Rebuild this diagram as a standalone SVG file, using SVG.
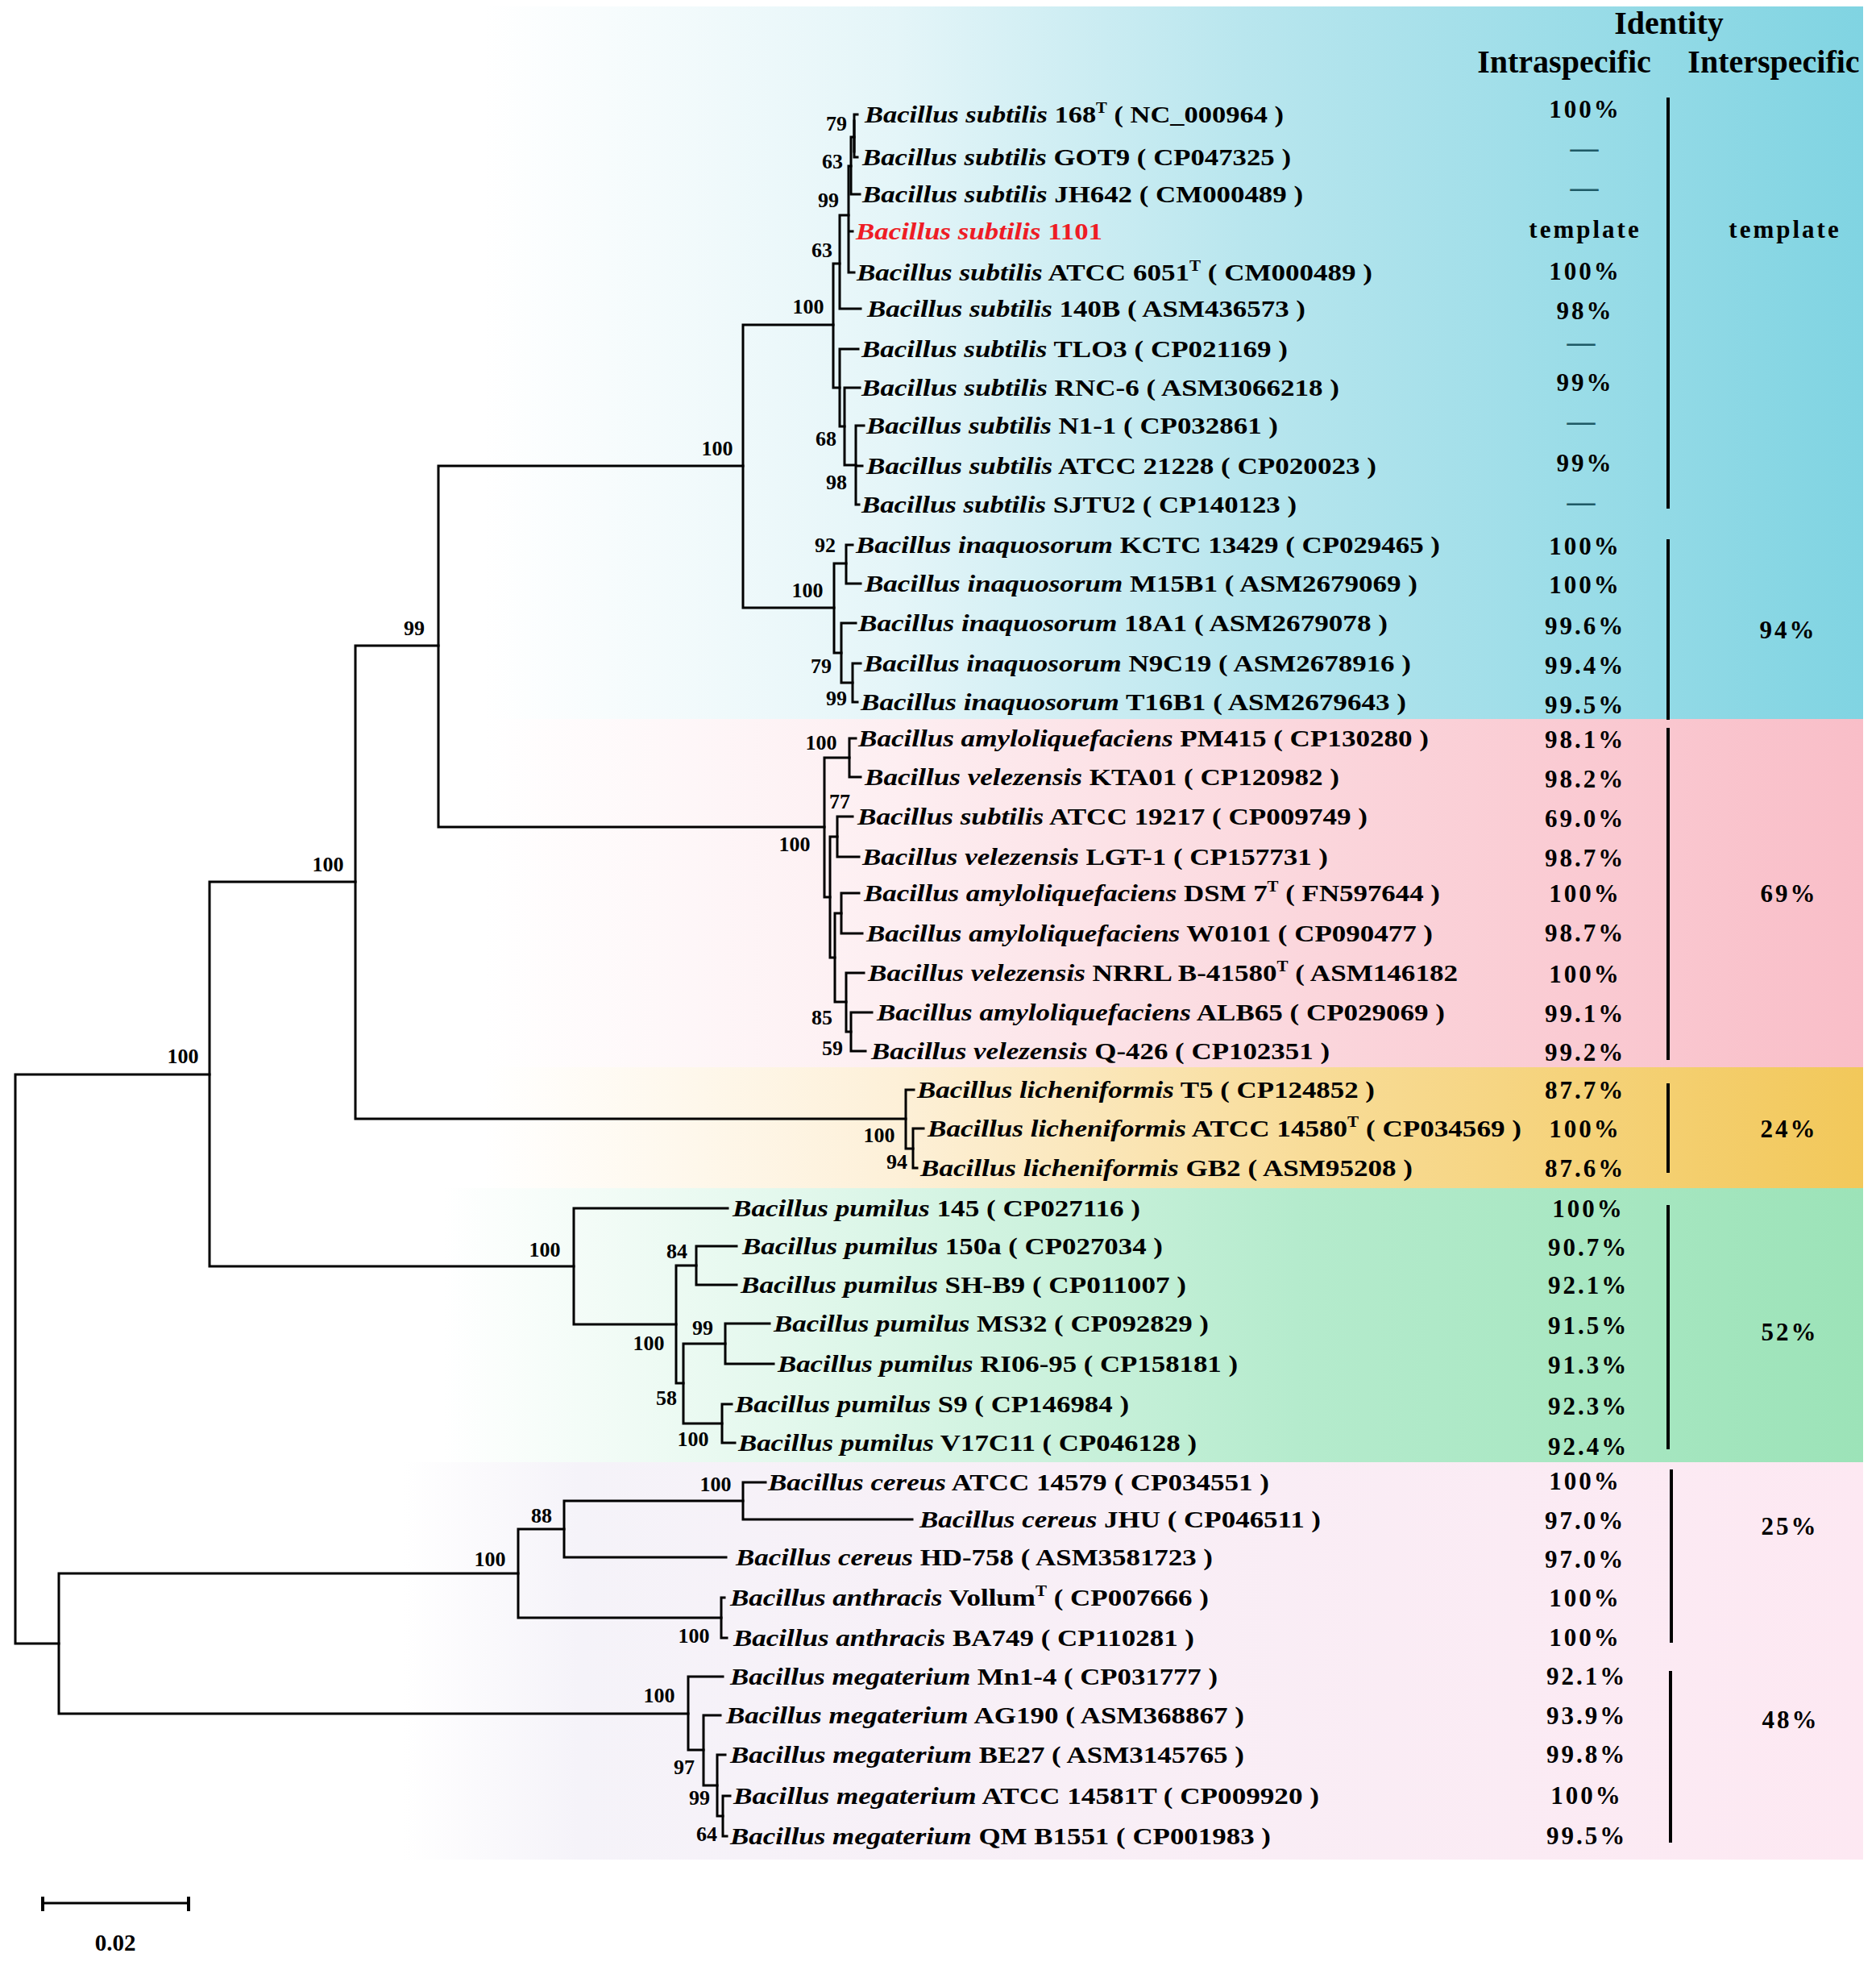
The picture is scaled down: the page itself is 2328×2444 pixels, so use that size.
<svg xmlns="http://www.w3.org/2000/svg" width="2328" height="2444" viewBox="0 0 2328 2444">
<style>
.lf{font-family:"Liberation Serif","Times New Roman",serif;font-weight:bold;font-size:30px;fill:#000}
.it{font-style:italic}
.sup{font-size:18px}
.bs{font-family:"Liberation Serif","Times New Roman",serif;font-weight:bold;font-size:26px;fill:#000;text-anchor:middle}
.pc{font-family:"Liberation Serif","Times New Roman",serif;font-weight:bold;font-size:31px;letter-spacing:3px;fill:#000;text-anchor:middle}
.dash{font-family:"Liberation Serif","Times New Roman",serif;font-weight:bold;font-size:35px;fill:#1e5a66;text-anchor:middle}
.hd{font-family:"Liberation Serif","Times New Roman",serif;font-weight:bold;font-size:40px;fill:#000;text-anchor:middle}
.br{fill:none;stroke:#000;stroke-width:3;stroke-linecap:square}
.sep{stroke:#000;stroke-width:4}
</style>
<defs>
<linearGradient id="gBlue" gradientUnits="userSpaceOnUse" x1="600" y1="0" x2="2312" y2="0">
<stop offset="0" stop-color="#ffffff"/><stop offset="0.3" stop-color="#e4f5f8"/><stop offset="0.55" stop-color="#b9e6ee"/><stop offset="1" stop-color="#80d4e2"/>
</linearGradient>
<linearGradient id="gPink" gradientUnits="userSpaceOnUse" x1="600" y1="0" x2="2312" y2="0">
<stop offset="0" stop-color="#ffffff"/><stop offset="0.3" stop-color="#fdeef1"/><stop offset="0.6" stop-color="#fbd6dc"/><stop offset="1" stop-color="#f9bec8"/>
</linearGradient>
<linearGradient id="gOrange" gradientUnits="userSpaceOnUse" x1="600" y1="0" x2="2312" y2="0">
<stop offset="0" stop-color="#ffffff"/><stop offset="0.3" stop-color="#fdf0d8"/><stop offset="0.6" stop-color="#f8dc98"/><stop offset="1" stop-color="#f2c85a"/>
</linearGradient>
<linearGradient id="gGreen" gradientUnits="userSpaceOnUse" x1="550" y1="0" x2="2312" y2="0">
<stop offset="0" stop-color="#ffffff"/><stop offset="0.3" stop-color="#dcf6e8"/><stop offset="0.6" stop-color="#b5ebcd"/><stop offset="1" stop-color="#9ce3b8"/>
</linearGradient>
<linearGradient id="gLpink" gradientUnits="userSpaceOnUse" x1="500" y1="0" x2="2312" y2="0">
<stop offset="0" stop-color="#ffffff"/><stop offset="0.12" stop-color="#f5f3f9"/><stop offset="1" stop-color="#fde8f2"/>
</linearGradient>
</defs>
<rect x="0" y="0" width="2328" height="2444" fill="#ffffff"/>
<g id="bands">
<rect x="0" y="8" width="2312" height="884" fill="url(#gBlue)"/>
<rect x="0" y="892" width="2312" height="432" fill="url(#gPink)"/>
<rect x="0" y="1324" width="2312" height="150" fill="url(#gOrange)"/>
<rect x="0" y="1474" width="2312" height="340" fill="url(#gGreen)"/>
<rect x="0" y="1814" width="2312" height="493" fill="url(#gLpink)"/>
</g>
<g id="connectors">
<path class="br" d="M19,1333 V2039 M19,1333 H260 M19,2039 H73"/>
<path class="br" d="M260,1094 V1571 M260,1094 H441 M260,1571 H712"/>
<path class="br" d="M441,801 V1388 M441,801 H544 M441,1388 H1124"/>
<path class="br" d="M544,578 V1026 M544,578 H922 M544,1026 H1023"/>
<path class="br" d="M922,403 V754 M922,403 H1034 M922,754 H1035"/>
<path class="br" d="M1034,327 V481 M1034,327 H1042 M1034,481 H1042"/>
<path class="br" d="M1042,267 V383 M1042,267 H1053 M1042,383 H1068"/>
<path class="br" d="M1053,206 V338 M1053,206 H1056 M1053,287 H1058 M1053,338 H1060"/>
<path class="br" d="M1056,170 V241 M1056,170 H1060 M1056,241 H1067"/>
<path class="br" d="M1060,142 V195 M1060,142 H1064 M1060,195 H1064"/>
<path class="br" stroke-width="6" d="M1060,150 V188"/>
<path class="br" d="M1042,433 V529 M1042,433 H1065 M1042,529 H1048"/>
<path class="br" d="M1048,481 V577 M1048,481 H1067 M1048,577 H1062"/>
<path class="br" d="M1062,528 V626 M1062,528 H1072 M1062,578 H1070 M1062,626 H1066"/>
<path class="br" d="M1035,699 V810 M1035,699 H1050 M1035,810 H1044"/>
<path class="br" d="M1050,676 V724 M1050,676 H1058 M1050,724 H1068"/>
<path class="br" d="M1044,773 V847 M1044,773 H1062 M1044,847 H1058"/>
<path class="br" d="M1058,823 V871 M1058,823 H1068 M1058,871 H1064"/>
<path class="br" d="M1023,940 V1113 M1023,940 H1054 M1023,1113 H1030"/>
<path class="br" d="M1054,916 V964 M1054,916 H1062 M1054,964 H1068"/>
<path class="br" d="M1030,1038 V1188 M1030,1038 H1039 M1030,1188 H1036"/>
<path class="br" d="M1039,1013 V1063 M1039,1013 H1058 M1039,1063 H1066"/>
<path class="br" d="M1036,1133 V1243 M1036,1133 H1044 M1036,1243 H1050"/>
<path class="br" d="M1044,1108 V1158 M1044,1108 H1066 M1044,1158 H1070"/>
<path class="br" d="M1050,1207 V1280 M1050,1207 H1072 M1050,1280 H1056"/>
<path class="br" d="M1056,1256 V1304 M1056,1256 H1082 M1056,1304 H1074"/>
<path class="br" d="M1124,1352 V1425 M1124,1352 H1134 M1124,1425 H1133"/>
<path class="br" d="M1133,1400 V1449 M1133,1400 H1146 M1133,1449 H1138"/>
<path class="br" d="M712,1499 V1643 M712,1499 H903 M712,1643 H839"/>
<path class="br" d="M839,1570 V1716 M839,1570 H864 M839,1716 H848"/>
<path class="br" d="M864,1546 V1594 M864,1546 H914 M864,1594 H914"/>
<path class="br" d="M848,1667 V1766 M848,1667 H900 M848,1766 H896"/>
<path class="br" d="M900,1642 V1692 M900,1642 H955 M900,1692 H960"/>
<path class="br" d="M896,1742 V1790 M896,1742 H908 M896,1790 H912"/>
<path class="br" d="M73,1952 V2126 M73,1952 H643 M73,2126 H854"/>
<path class="br" d="M643,1897 V2007 M643,1897 H700 M643,2007 H895"/>
<path class="br" d="M700,1862 V1932 M700,1862 H922 M700,1932 H901"/>
<path class="br" d="M922,1839 V1885 M922,1839 H950 M922,1885 H1132"/>
<path class="br" d="M895,1982 V2032 M895,1982 H899 M895,2032 H902"/>
<path class="br" d="M854,2080 V2171 M854,2080 H897 M854,2171 H873"/>
<path class="br" d="M873,2128 V2215 M873,2128 H894 M873,2215 H890"/>
<path class="br" d="M890,2177 V2253 M890,2177 H900 M890,2253 H897"/>
<path class="br" d="M897,2228 V2278 M897,2228 H906 M897,2278 H902"/>
</g>
<g id="support">
<text class="bs" x="227" y="1319">100</text>
<text class="bs" x="407" y="1081">100</text>
<text class="bs" x="514" y="788">99</text>
<text class="bs" x="890" y="565">100</text>
<text class="bs" x="1003" y="389">100</text>
<text class="bs" x="1020" y="319">63</text>
<text class="bs" x="1028" y="257">99</text>
<text class="bs" x="1033" y="209">63</text>
<text class="bs" x="1038" y="162">79</text>
<text class="bs" x="1025" y="553">68</text>
<text class="bs" x="1038" y="607">98</text>
<text class="bs" x="1024" y="685">92</text>
<text class="bs" x="1002" y="741">100</text>
<text class="bs" x="1019" y="835">79</text>
<text class="bs" x="1038" y="875">99</text>
<text class="bs" x="1019" y="930">100</text>
<text class="bs" x="1042" y="1003">77</text>
<text class="bs" x="986" y="1056">100</text>
<text class="bs" x="1020" y="1271">85</text>
<text class="bs" x="1033" y="1309">59</text>
<text class="bs" x="1091" y="1417">100</text>
<text class="bs" x="1113" y="1450">94</text>
<text class="bs" x="676" y="1559">100</text>
<text class="bs" x="840" y="1561">84</text>
<text class="bs" x="805" y="1675">100</text>
<text class="bs" x="872" y="1656">99</text>
<text class="bs" x="827" y="1743">58</text>
<text class="bs" x="860" y="1794">100</text>
<text class="bs" x="888" y="1850">100</text>
<text class="bs" x="672" y="1889">88</text>
<text class="bs" x="608" y="1943">100</text>
<text class="bs" x="861" y="2038">100</text>
<text class="bs" x="818" y="2112">100</text>
<text class="bs" x="849" y="2201">97</text>
<text class="bs" x="868" y="2239">99</text>
<text class="bs" x="877" y="2284">64</text>
</g>
<g id="leaf-01"><text class="lf" x="1073" y="152" textLength="520" lengthAdjust="spacingAndGlyphs"><tspan class="it">Bacillus subtilis</tspan> 168<tspan class="sup" dy="-12">T</tspan><tspan dy="12"> ( NC_000964 )</tspan></text></g>
<g id="leaf-02"><text class="lf" x="1070" y="205" textLength="532" lengthAdjust="spacingAndGlyphs"><tspan class="it">Bacillus subtilis</tspan> GOT9 ( CP047325 )</text></g>
<g id="leaf-03"><text class="lf" x="1070" y="251" textLength="547" lengthAdjust="spacingAndGlyphs"><tspan class="it">Bacillus subtilis</tspan> JH642 ( CM000489 )</text></g>
<g id="leaf-04"><text class="lf" x="1062" y="297" textLength="306" lengthAdjust="spacingAndGlyphs" fill="#ee1c25" style="fill:#ee1c25"><tspan class="it">Bacillus subtilis</tspan> 1101</text></g>
<g id="leaf-05"><text class="lf" x="1063" y="348" textLength="640" lengthAdjust="spacingAndGlyphs"><tspan class="it">Bacillus subtilis</tspan> ATCC 6051<tspan class="sup" dy="-12">T</tspan><tspan dy="12"> ( CM000489 )</tspan></text></g>
<g id="leaf-06"><text class="lf" x="1076" y="393" textLength="544" lengthAdjust="spacingAndGlyphs"><tspan class="it">Bacillus subtilis</tspan> 140B ( ASM436573 )</text></g>
<g id="leaf-07"><text class="lf" x="1069" y="443" textLength="529" lengthAdjust="spacingAndGlyphs"><tspan class="it">Bacillus subtilis</tspan> TLO3 ( CP021169 )</text></g>
<g id="leaf-08"><text class="lf" x="1069" y="491" textLength="593" lengthAdjust="spacingAndGlyphs"><tspan class="it">Bacillus subtilis</tspan> RNC-6 ( ASM3066218 )</text></g>
<g id="leaf-09"><text class="lf" x="1075" y="538" textLength="511" lengthAdjust="spacingAndGlyphs"><tspan class="it">Bacillus subtilis</tspan> N1-1 ( CP032861 )</text></g>
<g id="leaf-10"><text class="lf" x="1075" y="588" textLength="633" lengthAdjust="spacingAndGlyphs"><tspan class="it">Bacillus subtilis</tspan> ATCC 21228 ( CP020023 )</text></g>
<g id="leaf-11"><text class="lf" x="1069" y="636" textLength="540" lengthAdjust="spacingAndGlyphs"><tspan class="it">Bacillus subtilis</tspan> SJTU2 ( CP140123 )</text></g>
<g id="leaf-12"><text class="lf" x="1062" y="686" textLength="725" lengthAdjust="spacingAndGlyphs"><tspan class="it">Bacillus inaquosorum</tspan> KCTC 13429 ( CP029465 )</text></g>
<g id="leaf-13"><text class="lf" x="1073" y="734" textLength="686" lengthAdjust="spacingAndGlyphs"><tspan class="it">Bacillus inaquosorum</tspan> M15B1 ( ASM2679069 )</text></g>
<g id="leaf-14"><text class="lf" x="1065" y="783" textLength="657" lengthAdjust="spacingAndGlyphs"><tspan class="it">Bacillus inaquosorum</tspan> 18A1 ( ASM2679078 )</text></g>
<g id="leaf-15"><text class="lf" x="1072" y="833" textLength="679" lengthAdjust="spacingAndGlyphs"><tspan class="it">Bacillus inaquosorum</tspan> N9C19 ( ASM2678916 )</text></g>
<g id="leaf-16"><text class="lf" x="1068" y="881" textLength="677" lengthAdjust="spacingAndGlyphs"><tspan class="it">Bacillus inaquosorum</tspan> T16B1 ( ASM2679643 )</text></g>
<g id="leaf-17"><text class="lf" x="1065" y="926" textLength="708" lengthAdjust="spacingAndGlyphs"><tspan class="it">Bacillus amyloliquefaciens</tspan> PM415 ( CP130280 )</text></g>
<g id="leaf-18"><text class="lf" x="1073" y="974" textLength="589" lengthAdjust="spacingAndGlyphs"><tspan class="it">Bacillus velezensis</tspan> KTA01 ( CP120982 )</text></g>
<g id="leaf-19"><text class="lf" x="1064" y="1023" textLength="633" lengthAdjust="spacingAndGlyphs"><tspan class="it">Bacillus subtilis</tspan> ATCC 19217 ( CP009749 )</text></g>
<g id="leaf-20"><text class="lf" x="1070" y="1073" textLength="578" lengthAdjust="spacingAndGlyphs"><tspan class="it">Bacillus velezensis</tspan> LGT-1 ( CP157731 )</text></g>
<g id="leaf-21"><text class="lf" x="1072" y="1118" textLength="715" lengthAdjust="spacingAndGlyphs"><tspan class="it">Bacillus amyloliquefaciens</tspan> DSM 7<tspan class="sup" dy="-12">T</tspan><tspan dy="12"> ( FN597644 )</tspan></text></g>
<g id="leaf-22"><text class="lf" x="1075" y="1168" textLength="703" lengthAdjust="spacingAndGlyphs"><tspan class="it">Bacillus amyloliquefaciens</tspan> W0101 ( CP090477 )</text></g>
<g id="leaf-23"><text class="lf" x="1077" y="1217" textLength="732" lengthAdjust="spacingAndGlyphs"><tspan class="it">Bacillus velezensis</tspan> NRRL B-41580<tspan class="sup" dy="-12">T</tspan><tspan dy="12"> ( ASM146182</tspan></text></g>
<g id="leaf-24"><text class="lf" x="1088" y="1266" textLength="705" lengthAdjust="spacingAndGlyphs"><tspan class="it">Bacillus amyloliquefaciens</tspan> ALB65 ( CP029069 )</text></g>
<g id="leaf-25"><text class="lf" x="1081" y="1314" textLength="569" lengthAdjust="spacingAndGlyphs"><tspan class="it">Bacillus velezensis</tspan> Q-426 ( CP102351 )</text></g>
<g id="leaf-26"><text class="lf" x="1138" y="1362" textLength="568" lengthAdjust="spacingAndGlyphs"><tspan class="it">Bacillus licheniformis</tspan> T5 ( CP124852 )</text></g>
<g id="leaf-27"><text class="lf" x="1151" y="1410" textLength="737" lengthAdjust="spacingAndGlyphs"><tspan class="it">Bacillus licheniformis</tspan> ATCC 14580<tspan class="sup" dy="-12">T</tspan><tspan dy="12"> ( CP034569 )</tspan></text></g>
<g id="leaf-28"><text class="lf" x="1142" y="1459" textLength="611" lengthAdjust="spacingAndGlyphs"><tspan class="it">Bacillus licheniformis</tspan> GB2 ( ASM95208 )</text></g>
<g id="leaf-29"><text class="lf" x="909" y="1509" textLength="506" lengthAdjust="spacingAndGlyphs"><tspan class="it">Bacillus pumilus</tspan> 145 ( CP027116 )</text></g>
<g id="leaf-30"><text class="lf" x="921" y="1556" textLength="522" lengthAdjust="spacingAndGlyphs"><tspan class="it">Bacillus pumilus</tspan> 150a ( CP027034 )</text></g>
<g id="leaf-31"><text class="lf" x="919" y="1604" textLength="553" lengthAdjust="spacingAndGlyphs"><tspan class="it">Bacillus pumilus</tspan> SH-B9 ( CP011007 )</text></g>
<g id="leaf-32"><text class="lf" x="960" y="1652" textLength="540" lengthAdjust="spacingAndGlyphs"><tspan class="it">Bacillus pumilus</tspan> MS32 ( CP092829 )</text></g>
<g id="leaf-33"><text class="lf" x="965" y="1702" textLength="571" lengthAdjust="spacingAndGlyphs"><tspan class="it">Bacillus pumilus</tspan> RI06-95 ( CP158181 )</text></g>
<g id="leaf-34"><text class="lf" x="912" y="1752" textLength="489" lengthAdjust="spacingAndGlyphs"><tspan class="it">Bacillus pumilus</tspan> S9 ( CP146984 )</text></g>
<g id="leaf-35"><text class="lf" x="916" y="1800" textLength="569" lengthAdjust="spacingAndGlyphs"><tspan class="it">Bacillus pumilus</tspan> V17C11 ( CP046128 )</text></g>
<g id="leaf-36"><text class="lf" x="953" y="1849" textLength="622" lengthAdjust="spacingAndGlyphs"><tspan class="it">Bacillus cereus</tspan> ATCC 14579 ( CP034551 )</text></g>
<g id="leaf-37"><text class="lf" x="1141" y="1895" textLength="498" lengthAdjust="spacingAndGlyphs"><tspan class="it">Bacillus cereus</tspan> JHU ( CP046511 )</text></g>
<g id="leaf-38"><text class="lf" x="913" y="1942" textLength="592" lengthAdjust="spacingAndGlyphs"><tspan class="it">Bacillus cereus</tspan> HD-758 ( ASM3581723 )</text></g>
<g id="leaf-39"><text class="lf" x="906" y="1992" textLength="594" lengthAdjust="spacingAndGlyphs"><tspan class="it">Bacillus anthracis</tspan> Vollum<tspan class="sup" dy="-12">T</tspan><tspan dy="12"> ( CP007666 )</tspan></text></g>
<g id="leaf-40"><text class="lf" x="910" y="2042" textLength="572" lengthAdjust="spacingAndGlyphs"><tspan class="it">Bacillus anthracis</tspan> BA749 ( CP110281 )</text></g>
<g id="leaf-41"><text class="lf" x="906" y="2090" textLength="605" lengthAdjust="spacingAndGlyphs"><tspan class="it">Bacillus megaterium</tspan> Mn1-4 ( CP031777 )</text></g>
<g id="leaf-42"><text class="lf" x="901" y="2138" textLength="643" lengthAdjust="spacingAndGlyphs"><tspan class="it">Bacillus megaterium</tspan> AG190 ( ASM368867 )</text></g>
<g id="leaf-43"><text class="lf" x="906" y="2187" textLength="638" lengthAdjust="spacingAndGlyphs"><tspan class="it">Bacillus megaterium</tspan> BE27 ( ASM3145765 )</text></g>
<g id="leaf-44"><text class="lf" x="910" y="2238" textLength="727" lengthAdjust="spacingAndGlyphs"><tspan class="it">Bacillus megaterium</tspan> ATCC 14581T ( CP009920 )</text></g>
<g id="leaf-45"><text class="lf" x="906" y="2288" textLength="671" lengthAdjust="spacingAndGlyphs"><tspan class="it">Bacillus megaterium</tspan> QM B1551 ( CP001983 )</text></g>
<g id="identity-header">
<text class="hd" x="2071" y="42">Identity</text>
<text class="hd" x="1941" y="90">Intraspecific</text>
<text class="hd" x="2201" y="90">Interspecific</text>
</g>
<g id="intraspecific">
<text class="pc" x="1967" y="146">100%</text>
<text class="dash" x="1966" y="195">—</text>
<text class="dash" x="1966" y="244">—</text>
<text class="pc" x="1967" y="295">template</text>
<text class="pc" x="1967" y="347">100%</text>
<text class="pc" x="1967" y="396">98%</text>
<text class="dash" x="1962" y="436">—</text>
<text class="pc" x="1967" y="485">99%</text>
<text class="dash" x="1962" y="534">—</text>
<text class="pc" x="1967" y="585">99%</text>
<text class="dash" x="1962" y="634">—</text>
<text class="pc" x="1967" y="688">100%</text>
<text class="pc" x="1967" y="736">100%</text>
<text class="pc" x="1967" y="787">99.6%</text>
<text class="pc" x="1967" y="836">99.4%</text>
<text class="pc" x="1967" y="885">99.5%</text>
<text class="pc" x="1967" y="928">98.1%</text>
<text class="pc" x="1967" y="977">98.2%</text>
<text class="pc" x="1967" y="1026">69.0%</text>
<text class="pc" x="1967" y="1075">98.7%</text>
<text class="pc" x="1967" y="1119">100%</text>
<text class="pc" x="1967" y="1168">98.7%</text>
<text class="pc" x="1967" y="1219">100%</text>
<text class="pc" x="1967" y="1268">99.1%</text>
<text class="pc" x="1967" y="1316">99.2%</text>
<text class="pc" x="1967" y="1363">87.7%</text>
<text class="pc" x="1967" y="1411">100%</text>
<text class="pc" x="1967" y="1460">87.6%</text>
<text class="pc" x="1971" y="1510">100%</text>
<text class="pc" x="1971" y="1558">90.7%</text>
<text class="pc" x="1971" y="1605">92.1%</text>
<text class="pc" x="1971" y="1655">91.5%</text>
<text class="pc" x="1971" y="1704">91.3%</text>
<text class="pc" x="1971" y="1755">92.3%</text>
<text class="pc" x="1971" y="1805">92.4%</text>
<text class="pc" x="1967" y="1848">100%</text>
<text class="pc" x="1967" y="1897">97.0%</text>
<text class="pc" x="1967" y="1945">97.0%</text>
<text class="pc" x="1967" y="1993">100%</text>
<text class="pc" x="1967" y="2042">100%</text>
<text class="pc" x="1969" y="2090">92.1%</text>
<text class="pc" x="1969" y="2139">93.9%</text>
<text class="pc" x="1969" y="2187">99.8%</text>
<text class="pc" x="1969" y="2238">100%</text>
<text class="pc" x="1969" y="2288">99.5%</text>
</g>
<g id="separators">
<line class="sep" x1="2070" y1="121" x2="2070" y2="631"/>
<line class="sep" x1="2070" y1="669" x2="2070" y2="893"/>
<line class="sep" x1="2070" y1="903" x2="2070" y2="1315"/>
<line class="sep" x1="2070" y1="1344" x2="2070" y2="1455"/>
<line class="sep" x1="2070" y1="1495" x2="2070" y2="1798"/>
<line class="sep" x1="2074" y1="1823" x2="2074" y2="2038"/>
<line class="sep" x1="2073" y1="2073" x2="2073" y2="2286"/>
</g>
<g id="interspecific">
<text class="pc" x="2215" y="295">template</text>
<text class="pc" x="2219" y="792">94%</text>
<text class="pc" x="2220" y="1119">69%</text>
<text class="pc" x="2220" y="1411">24%</text>
<text class="pc" x="2221" y="1663">52%</text>
<text class="pc" x="2221" y="1904">25%</text>
<text class="pc" x="2222" y="2144">48%</text>
</g>
<g id="scale-bar">
<path class="br" d="M53,2361 H234"/>
<path fill="none" stroke="#000" stroke-width="4" d="M53,2353 V2371 M234,2353 V2371"/>
<text class="bs" x="143" y="2420" style="font-size:29px">0.02</text>
</g>
</svg>
